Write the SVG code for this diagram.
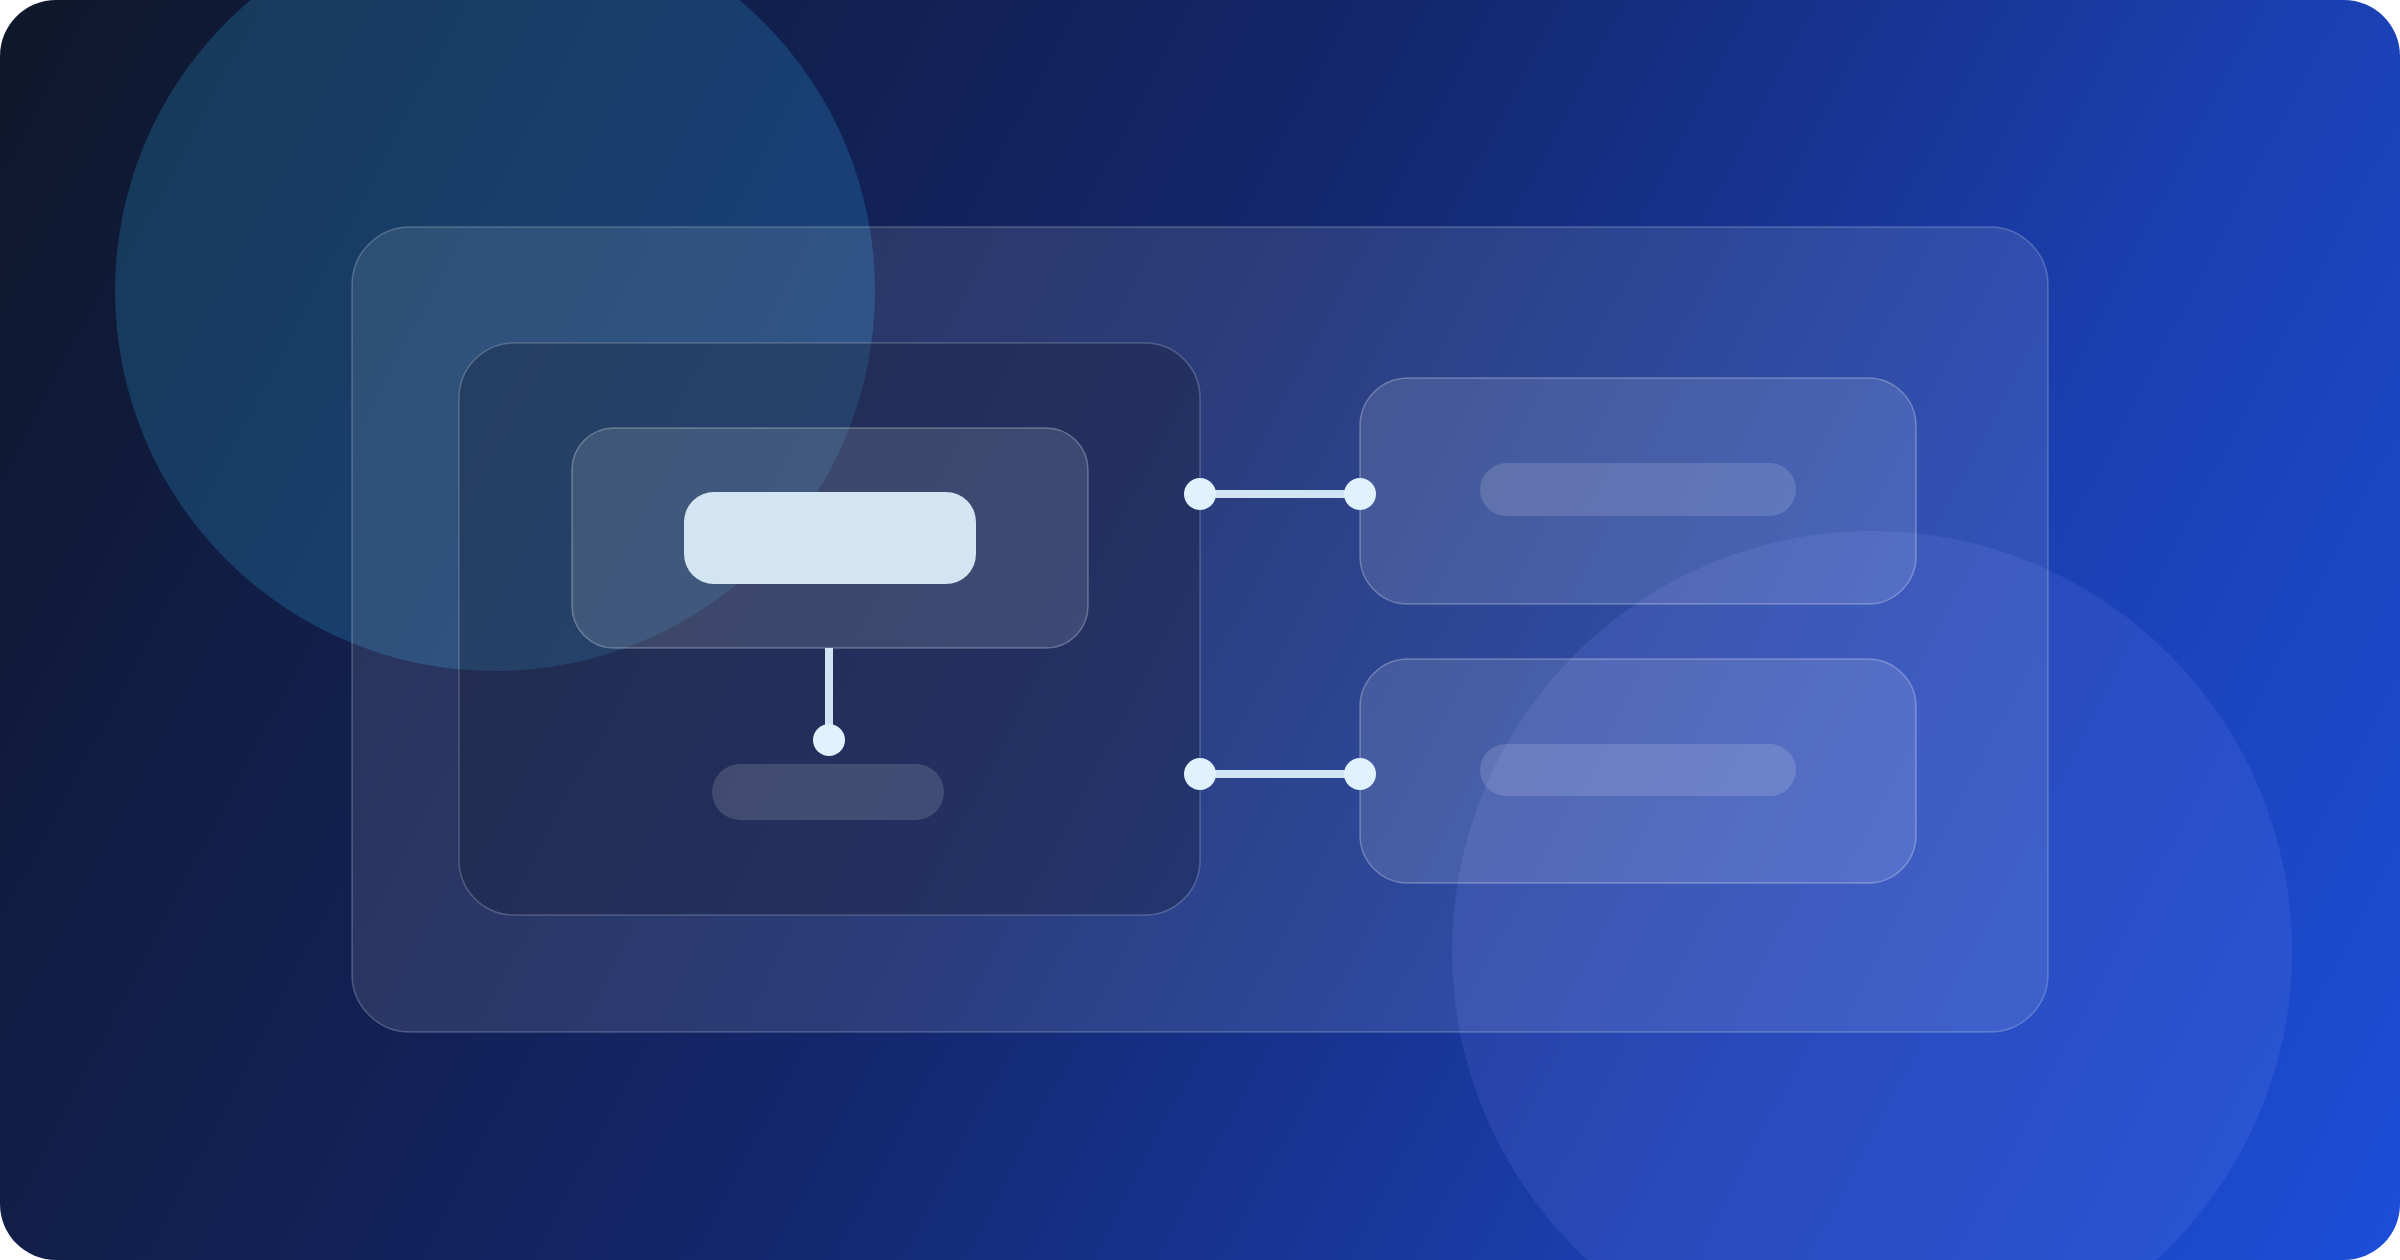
<svg xmlns="http://www.w3.org/2000/svg" width="2400" height="1260" viewBox="0 0 2400 1260">
  <defs>
    <linearGradient id="bg" gradientUnits="userSpaceOnUse" x1="0" y1="0" x2="2400" y2="1260">
      <stop offset="0" stop-color="#0f172a"/>
      <stop offset="0.45" stop-color="#13266a"/>
      <stop offset="0.75" stop-color="#1a3fb0"/>
      <stop offset="1" stop-color="#1d4ed8"/>
    </linearGradient>
    <clipPath id="frame">
      <rect x="0" y="0" width="2400" height="1260" rx="56" ry="56"/>
    </clipPath>
    <style>
      .panel { fill: #ffffff; fill-opacity: 0.1; stroke: #ffffff; stroke-opacity: 0.22; stroke-width: 1.5; }
      .inner { fill: #0f172a; fill-opacity: 0.3; stroke: #ffffff; stroke-opacity: 0.2; stroke-width: 1.5; }
      .card { fill: #ffffff; fill-opacity: 0.12; stroke: #ffffff; stroke-opacity: 0.28; stroke-width: 1.5; }
      .bar { fill: #ffffff; fill-opacity: 0.14; }
      .main { fill: #d3e5f3; }
      .link { stroke: #d1e4f4; stroke-width: 8; fill: none; }
      .dot { fill: #e0f2fe; }
    </style>
  </defs>

  <g clip-path="url(#frame)">
    <rect id="background" x="0" y="0" width="2400" height="1260" fill="url(#bg)"/>
    <circle id="glow-top-left" cx="495" cy="291" r="380" fill="#38bdf8" fill-opacity="0.2"/>
    <circle id="glow-bottom-right" cx="1872" cy="951" r="420" fill="#818cf8" fill-opacity="0.15"/>
  </g>

  <g id="outer-panel">
    <rect class="panel" x="352" y="227" width="1696" height="805" rx="58" ry="58"/>
  </g>

  <g id="inner-panel">
    <rect class="inner" x="459" y="343" width="741" height="572" rx="55" ry="55"/>
  </g>

  <g id="source-node">
    <rect class="card" x="572" y="428" width="516" height="220" rx="42" ry="42"/>
    <rect class="main" x="684" y="492" width="292" height="92" rx="30" ry="30"/>
  </g>

  <g id="sub-node">
    <rect class="bar" x="712" y="764" width="232" height="56" rx="28" ry="28"/>
  </g>

  <g id="target-top">
    <rect class="card" x="1360" y="378" width="556" height="226" rx="48" ry="48"/>
    <rect class="bar" x="1480" y="463" width="316" height="53" rx="26.5" ry="26.5"/>
  </g>

  <g id="target-bottom">
    <rect class="card" x="1360" y="659" width="556" height="224" rx="48" ry="48"/>
    <rect class="bar" x="1480" y="744" width="316" height="52" rx="26" ry="26"/>
  </g>

  <g id="connectors">
    <line class="link" x1="829" y1="648" x2="829" y2="740"/>
    <circle class="dot" cx="829" cy="740" r="16"/>
    <line class="link" x1="1200" y1="494" x2="1360" y2="494"/>
    <circle class="dot" cx="1200" cy="494" r="16"/>
    <circle class="dot" cx="1360" cy="494" r="16"/>
    <line class="link" x1="1200" y1="774" x2="1360" y2="774"/>
    <circle class="dot" cx="1200" cy="774" r="16"/>
    <circle class="dot" cx="1360" cy="774" r="16"/>
  </g>
</svg>
